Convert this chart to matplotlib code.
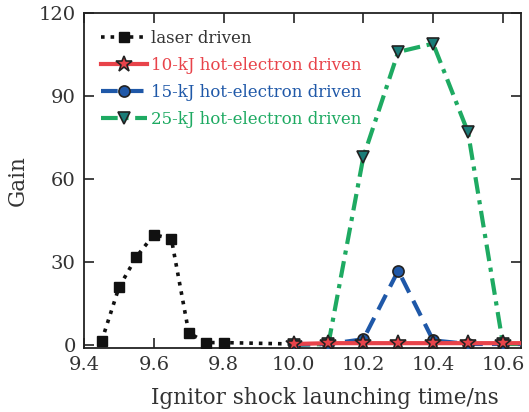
import numpy as np
import matplotlib
matplotlib.use("Agg")
import matplotlib.pyplot as plt

plt.rcParams['font.family'] = ['DejaVu Serif']

# laser driven ignition
t_laser = [9.45, 9.5, 9.55, 9.6, 9.65, 9.7, 9.75, 9.8, 10.0]
g_laser = [1.5, 21, 32, 40, 38.5, 4.5, 1, 1, 0.5]

# hot-electron driven ignition, three energies
t_hot = [10.0, 10.1, 10.2, 10.3, 10.4, 10.5, 10.6, 10.7]
g_10kj = [0.5, 0.8, 0.8, 0.8, 0.8, 0.8, 0.8, 0.8]
g_15kj = [0.3, 0.5, 2.2, 27, 1.8, 0.5, 0.5, 0.5]
g_25kj = [0.2, 0.5, 68, 106, 109, 77, 0.5, 0.5]

red = '#e8434a'
blue = '#1f58a8'
green = '#1eaa62'
edge = '#222222'

fig = plt.figure(figsize=(5.29, 4.12), dpi=100)
ax = fig.add_axes([0.159, 0.155, 0.826, 0.813])

ax.plot(t_laser, g_laser, ':', color='#111111', lw=2.6, marker='s', ms=7,
        mfc='#111111', mec='#111111', label='laser driven', zorder=3,
        markevery=list(range(8)))
ax.plot(t_hot, g_10kj, '-', color=red, lw=3, marker='*', ms=12,
        mfc=red, mec=edge, mew=1.2, label='10-kJ hot-electron driven', zorder=5)
ax.plot(t_hot, g_15kj, '--', color=blue, lw=3, dashes=(4, 2.2), marker='o', ms=8,
        mfc=blue, mec=edge, mew=1.2, label='15-kJ hot-electron driven', zorder=4)
ax.plot(t_hot, g_25kj, '-.', color=green, lw=3, dashes=(4, 1.6, 1, 1.6), marker='v', ms=9,
        mfc='#1a7c78', mec=edge, mew=1.2, label='25-kJ hot-electron driven', zorder=3)

ax.set_xlim(9.4, 10.652)
ax.set_ylim(-1, 120)
ax.set_xticks(np.arange(9.4, 10.61, 0.2))
ax.set_xticklabels(['9.4', '9.6', '9.8', '10.0', '10.2', '10.4', '10.6'])
ax.set_yticks([0, 30, 60, 90, 120])
ax.tick_params(direction='in', top=True, right=True, length=7, width=1.2,
               labelsize=14, colors='#222222', labelcolor='#333333', pad=6)
for s in ax.spines.values():
    s.set_linewidth(1.3)
    s.set_color('#222222')

ax.set_xlabel('Ignitor shock launching time/ns', fontsize=15.5, color='#333333',
              labelpad=9)
ax.xaxis.label.set_x(0.55)
ax.set_ylabel('Gain', fontsize=15.5, color='#333333', labelpad=7)

leg = ax.legend(loc='upper left', frameon=False, fontsize=12, handlelength=2.8,
                handletextpad=0.2, labelspacing=0.6, borderaxespad=0.7,
                borderpad=0.3)
for txt, c in zip(leg.get_texts(), ['#333333', red, blue, green]):
    txt.set_color(c)

fig.savefig('out.png', dpi=100)
